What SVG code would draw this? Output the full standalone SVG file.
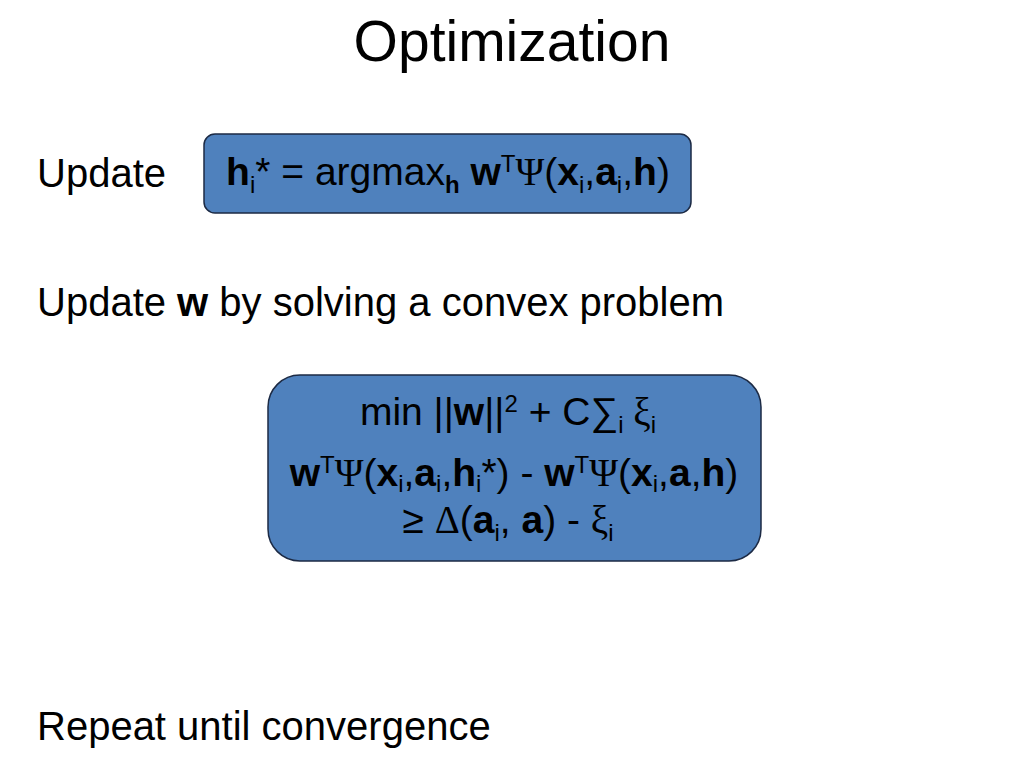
<svg xmlns="http://www.w3.org/2000/svg" width="1024" height="768" viewBox="0 0 1024 768">
<style>
text{font-family:"Liberation Sans",Arial,sans-serif;fill:#000}
.t{font-size:40px}
.f{font-size:39px}
.b{font-weight:bold}
.g{font-family:"Liberation Serif","Times New Roman",serif}
.s{font-size:24px}
.box{fill:#4f81bd;stroke:#1c2a44;stroke-width:1.5}
</style>
<rect width="1024" height="768" fill="#fff"/>
<text x="512" y="61" font-size="57" text-anchor="middle">Optimization</text>
<text class="t" x="37" y="187">Update</text>
<text class="t" x="37" y="316">Update <tspan class="b">w</tspan> by solving a convex problem</text>
<text class="t" x="37" y="740">Repeat until convergence</text>
<g id="node1">
<rect class="box" x="204" y="134" width="487" height="79" rx="11"/>
<text class="f" x="448" y="185" text-anchor="middle" font-size="39.5"><tspan class="b">h</tspan><tspan class="s" dy="8">i</tspan><tspan dy="-8">* = argmax</tspan><tspan class="s b" dy="8">h</tspan><tspan dy="-8"> </tspan><tspan class="b">w</tspan><tspan class="s" dy="-13">T</tspan><tspan class="g" dy="13">Ψ</tspan>(<tspan class="b">x</tspan><tspan class="s" dy="8">i</tspan><tspan dy="-8">,</tspan><tspan class="b">a</tspan><tspan class="s" dy="8">i</tspan><tspan dy="-8">,</tspan><tspan class="b">h</tspan><tspan>)</tspan></text>
</g>
<g id="node2">
<rect class="box" x="268" y="375" width="493" height="186" rx="32"/>
<text class="f" x="508" y="425" text-anchor="middle">min ||<tspan class="b">w</tspan>||<tspan class="s" dy="-13">2</tspan><tspan dy="13"> + C∑</tspan><tspan class="s" dy="8">i</tspan><tspan class="g" dy="-8"> ξ</tspan><tspan class="s" dy="8">i</tspan></text>
<text class="f" x="514" y="486" text-anchor="middle"><tspan class="b">w</tspan><tspan class="s" dy="-13">T</tspan><tspan class="g" dy="13">Ψ</tspan>(<tspan class="b">x</tspan><tspan class="s" dy="6">i</tspan><tspan dy="-6">,</tspan><tspan class="b">a</tspan><tspan class="s" dy="6">i</tspan><tspan dy="-6">,</tspan><tspan class="b">h</tspan><tspan class="s" dy="6">i</tspan><tspan dy="-6">*) - </tspan><tspan class="b">w</tspan><tspan class="s" dy="-13">T</tspan><tspan class="g" dy="13">Ψ</tspan>(<tspan class="b">x</tspan><tspan class="s" dy="6">i</tspan><tspan dy="-6">,</tspan><tspan class="b">a</tspan>,<tspan class="b">h</tspan>)</text>
<text class="f" x="508" y="533" text-anchor="middle">≥ <tspan class="g">Δ</tspan>(<tspan class="b">a</tspan><tspan class="s" dy="8">i</tspan><tspan dy="-8">, </tspan><tspan class="b">a</tspan>) - <tspan class="g">ξ</tspan><tspan class="s" dy="8">i</tspan></text>
</g>
<g id="connectors"></g>
</svg>
